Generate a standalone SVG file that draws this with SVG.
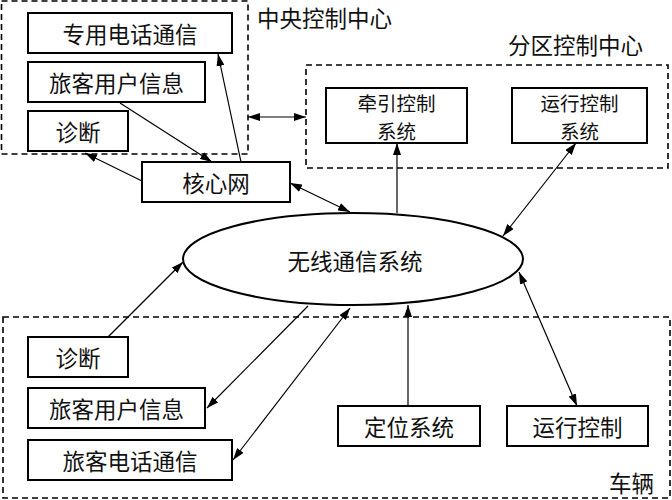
<svg xmlns="http://www.w3.org/2000/svg" width="672" height="500" viewBox="0 0 672 500">
<defs>
<style>
.bg{fill:#ffffff}
.box{fill:#ffffff;stroke:#000;stroke-width:2}
.dash{fill:none;stroke:#000;stroke-width:1.6;stroke-dasharray:6 4}
.ell{fill:#ffffff;stroke:#000;stroke-width:2}
.t{font-family:"Noto Sans CJK SC","Noto Sans CJK TC",sans-serif;font-size:22.5px;fill:#111;text-anchor:middle;dominant-baseline:central}
.t2{font-size:19.5px}
.lbl{font-family:"Noto Sans CJK SC","Noto Sans CJK TC",sans-serif;font-size:22.5px;fill:#111}
.c line{stroke:#000;stroke-width:1.2;fill:none}
</style>
<marker id="ah" viewBox="0 0 12 8" refX="12" refY="4" markerWidth="12" markerHeight="8" markerUnits="userSpaceOnUse" orient="auto-start-reverse">
<path d="M0,0 L12,4 L0,8 Z" fill="#000"/>
</marker>
</defs>
<rect class="bg" x="0" y="0" width="672" height="500"/>

<g id="central-control-center">
<rect class="dash" x="1.5" y="1" width="246.5" height="153"/>
<text class="lbl" x="257" y="27">中央控制中心</text>
</g>
<g id="zone-control-center">
<rect class="dash" x="306" y="65" width="362" height="103"/>
<text class="lbl" x="508" y="54">分区控制中心</text>
</g>
<g id="vehicle">
<rect class="dash" x="3" y="317" width="667" height="181"/>
<text class="lbl" x="609" y="492">车辆</text>
</g>

<g class="c" id="connectors">
<line x1="142" y1="181" x2="85" y2="153" marker-end="url(#ah)"/>
<line x1="120" y1="103" x2="212" y2="162" marker-end="url(#ah)"/>
<line x1="241" y1="162" x2="218" y2="54" marker-end="url(#ah)"/>
<line x1="248" y1="117" x2="306" y2="117" marker-start="url(#ah)" marker-end="url(#ah)"/>
<line x1="290" y1="183" x2="350" y2="212" marker-start="url(#ah)" marker-end="url(#ah)"/>
<line x1="397" y1="213" x2="397" y2="143" marker-end="url(#ah)"/>
<line x1="503" y1="236" x2="576" y2="143" marker-start="url(#ah)" marker-end="url(#ah)"/>
<line x1="108" y1="337" x2="183" y2="262" marker-end="url(#ah)"/>
<line x1="308" y1="306" x2="207" y2="408" marker-end="url(#ah)"/>
<line x1="350" y1="308" x2="233" y2="460" marker-start="url(#ah)" marker-end="url(#ah)"/>
<line x1="408" y1="406" x2="408" y2="305" marker-end="url(#ah)"/>
<line x1="519" y1="272" x2="577" y2="406" marker-start="url(#ah)" marker-end="url(#ah)"/>
</g>

<g id="dedicated-phone">
<rect class="box" x="28" y="13" width="204" height="40"/>
<text class="t" x="130" y="33">专用电话通信</text>
</g>
<g id="passenger-info-central">
<rect class="box" x="28" y="62" width="177" height="40"/>
<text class="t" x="116.5" y="82">旅客用户信息</text>
</g>
<g id="diagnosis-central">
<rect class="box" x="28" y="111" width="100" height="40"/>
<text class="t" x="78" y="131">诊断</text>
</g>
<g id="core-network">
<rect class="box" x="142" y="162" width="148" height="40"/>
<text class="t" x="216" y="182">核心网</text>
</g>
<g id="traction-control">
<rect class="box" x="326" y="88" width="141" height="55"/>
<text class="t t2" x="396.5" y="101.5"><tspan x="396.5">牵引控制</tspan><tspan x="396.5" dy="28.5">系统</tspan></text>
</g>
<g id="operation-control-system">
<rect class="box" x="512" y="88" width="135" height="55"/>
<text class="t t2" x="579.5" y="101.5"><tspan x="579.5">运行控制</tspan><tspan x="579.5" dy="28.5">系统</tspan></text>
</g>
<g id="wireless-system">
<ellipse class="ell" cx="353" cy="259" rx="170" ry="46"/>
<text class="t" x="355" y="260">无线通信系统</text>
</g>
<g id="diagnosis-vehicle">
<rect class="box" x="28" y="337" width="100" height="40"/>
<text class="t" x="78" y="357">诊断</text>
</g>
<g id="passenger-info-vehicle">
<rect class="box" x="28" y="388" width="177" height="40"/>
<text class="t" x="116.5" y="408">旅客用户信息</text>
</g>
<g id="passenger-phone">
<rect class="box" x="28" y="440" width="204" height="40"/>
<text class="t" x="130" y="460">旅客电话通信</text>
</g>
<g id="positioning-system">
<rect class="box" x="338" y="406" width="142" height="40"/>
<text class="t" x="409" y="426">定位系统</text>
</g>
<g id="operation-control-vehicle">
<rect class="box" x="507" y="406" width="141" height="40"/>
<text class="t" x="577.5" y="426">运行控制</text>
</g>
</svg>
